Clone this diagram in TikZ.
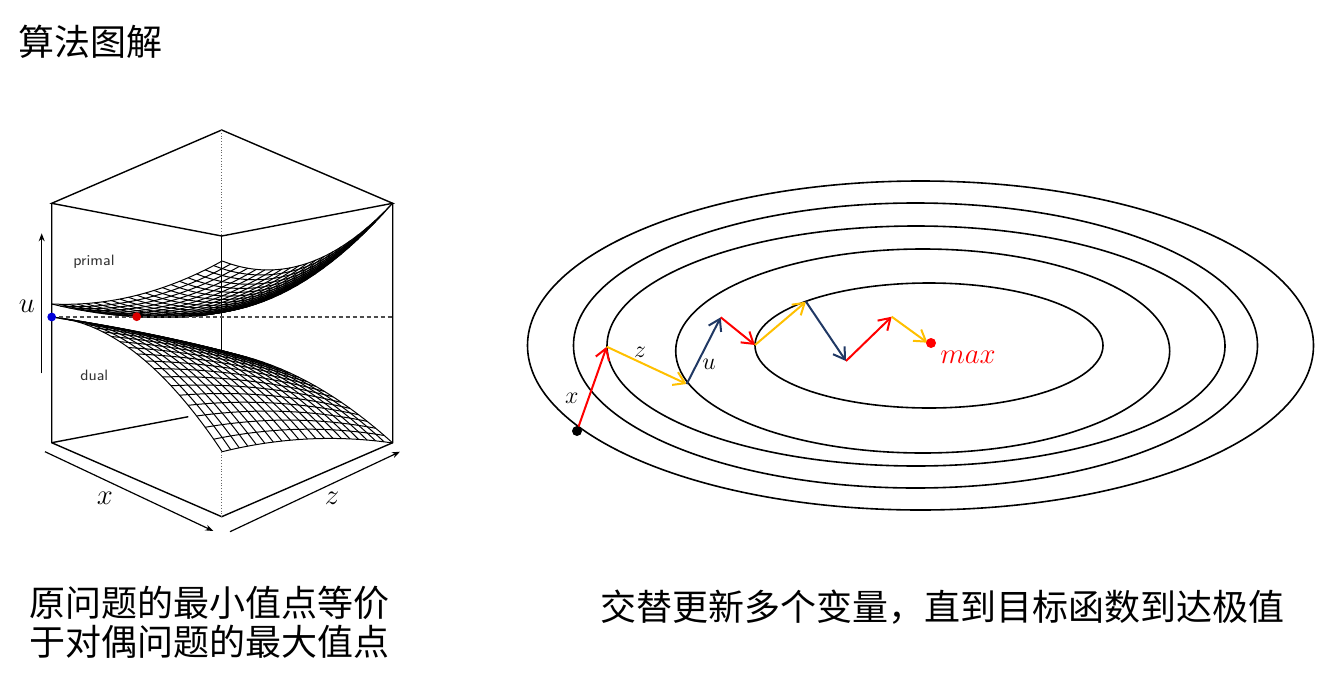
\documentclass[tikz,border=0pt]{standalone}
\usepackage{fontspec}
\usetikzlibrary{arrows.meta}
\newfontfamily\cjk{Noto Sans CJK SC}
\definecolor{vred}{HTML}{FF0000}
\definecolor{vgold}{HTML}{FFC000}
\definecolor{vnavy}{HTML}{203864}

\begin{document}
\begin{tikzpicture}[x=0.5pt, y=-0.5pt,
    box/.style={line width=0.7pt},
    meshline/.style={line width=0.5pt},
    axis/.style={line width=0.6pt, -{Stealth[length=4pt, width=3pt]}},
    ring/.style={line width=0.8pt},
    stepx/.style={line width=1pt, -{Straight Barb[length=5.5pt, width=7pt]}},
    lbl/.style={inner sep=0pt, font=\fontsize{13}{15}\selectfont},
    cjktext/.style={inner sep=0pt, font=\cjk\fontsize{18}{19.5}\selectfont},
    declare function={
      meshx(\p,\q)=51.7+170.5*\p+170.5*\q;
      pea(\p)=304+42*\p-34*\p*\p;
      peb(\p)=261+67*\p-125*\p*\p;
      pfa(\q)=304+8*\q-51*\q*\q;
      pfb(\q)=312-23*\q-86*\q*\q;
      primy(\p,\q)=(1-\q)*pea(\p)+\q*peb(\p)+(1-\p)*pfa(\q)+\p*pfb(\q)
        -((1-\p)*(1-\q)*304+\p*(1-\q)*312+\p*\q*203+(1-\p)*\q*261);
      dea(\p)=317+13.1*\p+121.6*\p*\p;
      deb(\p)=351.7+28.7*\p+62.6*\p*\p;
      dfa(\q)=317+28*\q+6.7*\q*\q;
      dfb(\q)=451.7-42.1*\q+33.4*\q*\q;
      dualy(\p,\q)=(1-\q)*dea(\p)+\q*deb(\p)+(1-\p)*dfa(\q)+\p*dfb(\q)
        -((1-\p)*(1-\q)*317+\p*(1-\q)*451.7+\p*\q*443+(1-\p)*\q*351.7);
    }]
  \useasboundingbox (0,0) rectangle (1328,685);

  \node[cjktext, anchor=west] (title) at (18,42) {算法图解};

  % box of the 3d plot
  \coordinate (tl) at (51.7,203.3);
  \coordinate (tb) at (221.7,130);
  \coordinate (tr) at (392.7,203.3);
  \coordinate (tf) at (221.7,236);
  \coordinate (bl) at (51.7,442.7);
  \coordinate (br) at (392.7,442.7);
  \coordinate (bf) at (221.7,516.7);
  \coordinate (dfront) at (221.7,451.7);
  \coordinate (dback) at (221.7,351.7);
  \coordinate (bhide) at (188.3,416.7);
  \draw[box] (tl) -- (tb) -- (tr) -- (tf) -- cycle;
  \draw[box] (tl) -- (bl) -- (bf) -- (br) -- (tr);
  \draw[box] (tf) -- (dback);
  \draw[box] (bl) -- (bhide);
  \draw[black!60, densely dotted] (tb) -- (tf);
  \draw[black!60, densely dotted] (dfront) -- (bf);

  % primal and dual meshes
  \foreach \i in {0,...,20} {
    \draw[meshline] plot[variable=\w, domain=0:1, samples=21, smooth]
      ({meshx(\i/20,\w)},{primy(\i/20,\w)});
    \draw[meshline] plot[variable=\w, domain=0:1, samples=21, smooth]
      ({meshx(\w,\i/20)},{primy(\w,\i/20)});
    \draw[meshline] plot[variable=\w, domain=0:1, samples=21, smooth]
      ({meshx(\i/20,\w)},{dualy(\i/20,\w)});
    \draw[meshline] plot[variable=\w, domain=0:1, samples=21, smooth]
      ({meshx(\w,\i/20)},{dualy(\w,\i/20)});
  }
  \node[font=\sffamily\fontsize{7.5}{9}\selectfont, text=black!80] (lprimal) at (94,261.7) {primal};
  \node[font=\sffamily\fontsize{7.5}{9}\selectfont, text=black!80] (ldual) at (94.3,375) {dual};

  % saddle level
  \coordinate (dmax) at (51.7,317);
  \coordinate (pmin) at (136.7,316.7);
  \coordinate (lvlend) at (392.7,317);
  \draw[black!70, dash pattern=on 2pt off 1.5pt, line width=0.6pt] (dmax) -- (lvlend);
  \fill[blue!85!black] (dmax) circle [radius=2.2pt];
  \fill[red!85!black] (pmin) circle [radius=2.2pt];

  % axes
  \coordinate (ua) at (41.7,373.3);
  \coordinate (ub) at (41.7,233.3);
  \coordinate (xa) at (45,451.7);
  \coordinate (xb) at (213.3,531);
  \coordinate (za) at (230,531.7);
  \coordinate (zb) at (400,451.7);
  \draw[axis] (ua) -- (ub);
  \draw[axis] (xa) -- (xb);
  \draw[axis] (za) -- (zb);
  \node[lbl, font=\fontsize{14}{16}\selectfont] (lu) at (27,306) {$u$};
  \node[lbl, font=\fontsize{14}{16}\selectfont] (lx) at (105,498) {$x$};
  \node[lbl, font=\fontsize{14}{16}\selectfont] (lz) at (332,498) {$z$};

  \node[cjktext, align=center] (leftnote) at (209,622)
    {原问题的最小值点等价\\于对偶问题的最大值点};

  % level sets
  \foreach \cx/\cy/\rx/\ry in {920.5/345.5/196.5/82.25, 915.5/345.5/171/71.25,
      916/346/154.5/60, 922.7/351/123.5/51, 929/345.5/87/31.25}
    \draw[ring] (\cx,\cy) ellipse [x radius=\rx pt, y radius=\ry pt];

  % alternating updates
  \coordinate (p0) at (577,431);
  \coordinate (p1) at (606.7,346.7);
  \coordinate (p2) at (686.7,384);
  \coordinate (p3) at (720.7,317.3);
  \coordinate (p4) at (755,345);
  \coordinate (p5) at (806,301.7);
  \coordinate (p6) at (846,361);
  \coordinate (p7) at (891.7,316.7);
  \coordinate (p8) at (927.5,342.7);
  \coordinate (pmax) at (931,343);
  \foreach \a/\b/\c in {p0/p1/vred, p1/p2/vgold, p2/p3/vnavy, p3/p4/vred,
      p4/p5/vgold, p5/p6/vnavy, p6/p7/vred, p7/p8/vgold}
    \draw[stepx, \c] (\a) -- (\b);
  \fill (p0) circle [radius=2.5pt];
  \fill[vred] (pmax) circle [radius=2.5pt];
  \node[lbl] (sx) at (571.7,398) {$x$};
  \node[lbl] (sz) at (640,352) {$z$};
  \node[lbl] (su) at (709,364) {$u$};
  \node[lbl, text=vred, font=\fontsize{14.5}{16}\selectfont] (smax) at (968,357) {$max$};

  \node[cjktext] (rightnote) at (942,607) {交替更新多个变量，直到目标函数到达极值};
\end{tikzpicture}
\end{document}
